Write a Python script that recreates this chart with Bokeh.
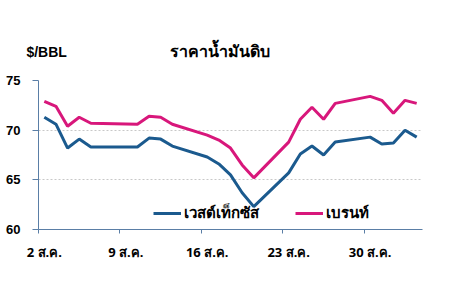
import pandas as pd
from bokeh.plotting import figure
from bokeh.models import (Range1d, FixedTicker, Legend, LegendItem, LinearAxis,
                          ColumnDataSource)
from bokeh.embed import file_html
from bokeh.resources import INLINE

# ---- data -------------------------------------------------------------
dates = ["2021-08-02", "2021-08-03", "2021-08-04", "2021-08-05", "2021-08-06",
         "2021-08-10", "2021-08-11", "2021-08-12", "2021-08-13", "2021-08-16",
         "2021-08-17", "2021-08-18", "2021-08-19", "2021-08-20", "2021-08-23",
         "2021-08-24", "2021-08-25", "2021-08-26", "2021-08-27", "2021-08-30",
         "2021-08-31", "2021-09-01", "2021-09-02", "2021-09-03"]
wti = [71.3, 70.6, 68.2, 69.1, 68.3, 68.3, 69.2, 69.1, 68.4, 67.3,
       66.6, 65.5, 63.7, 62.3, 65.7, 67.6, 68.4, 67.5, 68.8, 69.3,
       68.6, 68.7, 70.0, 69.3]
brent = [72.9, 72.4, 70.4, 71.3, 70.7, 70.6, 71.4, 71.3, 70.6, 69.5,
         69.0, 68.2, 66.5, 65.2, 68.8, 71.1, 72.3, 71.1, 72.7, 73.4,
         73.0, 71.7, 73.0, 72.7]
series_names = ["เวสต์เท็กซัส", "เบรนท์"]
tick_dates = ["2021-08-02", "2021-08-09", "2021-08-16", "2021-08-23", "2021-08-30"]
tick_labels = ["2 ส.ค.", "9 ส.ค.", "16 ส.ค.", "23 ส.ค.", "30 ส.ค."]
y_ticks = [60, 65, 70, 75]
title_text = "ราคาน้ำมันดิบ"
unit_text = "$/BBL"

# ---- helpers ----------------------------------------------------------
start = pd.Timestamp("2021-08-02")
end = pd.Timestamp("2021-09-04")
day = lambda d: (pd.Timestamp(d) - start).days
xs = [day(d) + 0.5 for d in dates]   # points sit in the middle of each day
src = ColumnDataSource(dict(x=xs, wti=wti, brent=brent))

BLUE = "#1b5a8e"
PINK = "#d8177b"
AXIS = "#5a7ea6"
FONT = "Liberation Sans"
THAI = "Noto Sans"

p = figure(width=449, height=288, output_backend="svg", toolbar_location=None,
           x_range=Range1d(0, day(end)), y_range=Range1d(60, 75),
           x_axis_location=None,
           min_border_left=38, min_border_right=27, min_border_top=80,
           min_border_bottom=59)
p.outline_line_color = None
p.background_fill_color = "white"
p.border_fill_color = "white"

r1 = p.line("x", "wti", source=src, line_color=BLUE, line_width=3)
r2 = p.line("x", "brent", source=src, line_color=PINK, line_width=3)

# y axis
p.yaxis.ticker = FixedTicker(ticks=y_ticks)
p.yaxis.axis_line_color = AXIS
p.yaxis.major_tick_line_color = AXIS
p.yaxis.major_tick_out = 6
p.yaxis.major_tick_in = 0
p.yaxis.minor_tick_line_color = None
p.yaxis.major_label_text_font = FONT
p.yaxis.major_label_text_font_style = "bold"
p.yaxis.major_label_text_font_size = "13px"
p.yaxis.major_label_text_color = "black"
p.yaxis.major_label_standoff = 12

# x axis: tick marks on day boundaries ...
tick_pos = [day(d) for d in tick_dates]
xa = LinearAxis(ticker=FixedTicker(ticks=tick_pos))
xa.axis_line_color = AXIS
xa.major_tick_line_color = AXIS
xa.major_tick_out = 4
xa.major_tick_in = 0
xa.minor_tick_line_color = None
xa.major_label_overrides = {t: "" for t in tick_pos}
xa.major_label_text_font_size = "0px"
xa.major_label_standoff = 0
p.add_layout(xa, "below")

# ... and labels centred in the day cell
xl = LinearAxis(ticker=FixedTicker(ticks=[t + 0.5 for t in tick_pos]))
xl.axis_line_color = None
xl.major_tick_line_color = None
xl.minor_tick_line_color = None
xl.major_tick_out = 0
xl.major_tick_in = 0
xl.major_label_overrides = {t + 0.5: s for t, s in zip(tick_pos, tick_labels)}
xl.major_label_text_font = THAI
xl.major_label_text_font_style = "bold"
xl.major_label_text_font_size = "13px"
xl.major_label_text_color = "black"
xl.major_label_standoff = 9
p.add_layout(xl, "below")

p.xgrid.grid_line_color = None
p.ygrid.ticker = FixedTicker(ticks=y_ticks)
p.ygrid.grid_line_color = "#c8c8c8"
p.ygrid.grid_line_dash = "2 2"
p.ygrid.grid_line_width = 1

# unit text as a right-aligned label of an invisible top axis
unit_x = 0.7
ua = LinearAxis(ticker=FixedTicker(ticks=[unit_x]))
ua.axis_line_color = None
ua.major_tick_line_color = None
ua.minor_tick_line_color = None
ua.major_tick_out = 0
ua.major_tick_in = 0
ua.major_label_overrides = {unit_x: unit_text}
ua.major_label_text_align = "right"
ua.major_label_text_font = FONT
ua.major_label_text_font_style = "bold"
ua.major_label_text_font_size = "14px"
ua.major_label_text_color = "black"
ua.major_label_standoff = 21
p.add_layout(ua, "above")

# title
p.title.text = title_text
p.title.align = "left"
p.title.offset = 131
p.title.text_font = THAI
p.title.text_font_style = "bold"
p.title.text_font_size = "16px"
p.title.text_color = "black"
p.title.standoff = -43

legend = Legend(items=[LegendItem(label=series_names[0], renderers=[r1]),
                       LegendItem(label=series_names[1], renderers=[r2])],
                orientation="horizontal", location=(115, 4),
                background_fill_alpha=0, border_line_color=None,
                padding=0, margin=0, spacing=36, glyph_width=28,
                label_standoff=3, label_text_font=THAI,
                label_text_font_style="bold", label_text_font_size="15px",
                label_text_color="black")
p.add_layout(legend)

open("out.html", "w").write(file_html(p, INLINE))
